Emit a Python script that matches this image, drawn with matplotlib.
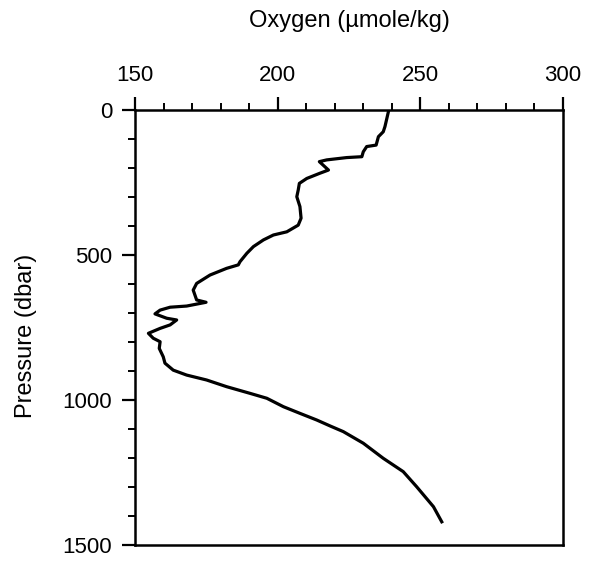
import matplotlib
matplotlib.use("Agg")
import matplotlib.pyplot as plt
from matplotlib.ticker import MultipleLocator

# --- Oxygen profile ---
oxygen = [238.8, 237.6, 237.0, 235.3, 234.5, 231.2, 230.0, 229.5, 224.2, 217.2,
          214.6, 217.8, 214.8, 210.2, 207.6, 207.2, 206.7, 207.8, 208.2, 207.2,
          203.2, 198.5, 195.0, 191.5, 189.2, 186.8, 186.2, 182.1, 176.3, 171.6,
          170.4, 171.6, 174.9, 168.1, 162.3, 158.8, 157.0, 161.1, 164.6, 162.3,
          158.8, 154.7, 156.4, 158.8, 158.5, 159.9, 160.5, 163.4, 168.1, 175.1,
          182.1, 190.3, 196.2, 202.0, 207.8, 213.7, 218.5, 223.0, 230.0, 237.0,
          244.0, 248.7, 254.6, 257.5]
pressure = [6, 57, 75, 92, 121, 126, 144, 161, 164, 172,
            178, 207, 218, 236, 253, 276, 299, 333, 373, 397,
            420, 431, 448, 471, 494, 523, 534, 546, 569, 598,
            621, 655, 663, 676, 680, 690, 703, 718, 724, 741,
            753, 770, 787, 799, 822, 851, 873, 897, 914, 931,
            954, 977, 994, 1023, 1046, 1069, 1090, 1109, 1149, 1201,
            1247, 1299, 1368, 1420]

x_ticks = [150, 200, 250, 300]
y_ticks = [0, 500, 1000, 1500]

plt.rcParams['font.family'] = ['Liberation Sans', 'DejaVu Sans']

fig = plt.figure(figsize=(5.89, 5.61), dpi=100)
ax = fig.add_axes([0.2292, 0.0285, 0.7267, 0.7754])

ax.plot(oxygen, pressure, color='black', lw=2.3, solid_joinstyle='round')

ax.set_xlim(150, 300)
ax.set_ylim(1500, 0)
ax.xaxis.tick_top()
ax.xaxis.set_label_position('top')
ax.set_xticks(x_ticks)
ax.set_yticks(y_ticks)
ax.xaxis.set_minor_locator(MultipleLocator(10))
ax.yaxis.set_minor_locator(MultipleLocator(100))
ax.tick_params(axis='both', which='major', length=9.5, width=1.6,
               labelsize=16, direction='out')
ax.tick_params(axis='both', which='minor', length=5, width=1.4, direction='out')
ax.tick_params(axis='x', which='major', pad=8)
ax.tick_params(axis='y', which='major', pad=7)
ax.tick_params(axis='y', right=False)
ax.tick_params(axis='x', bottom=False)

for s in ax.spines.values():
    s.set_linewidth(1.8)

ax.set_xlabel('Oxygen (µmole/kg)', fontsize=17, labelpad=27)
ax.set_ylabel('Pressure (dbar)', fontsize=17, labelpad=18, y=0.48)

fig.savefig('out.png', dpi=100)
